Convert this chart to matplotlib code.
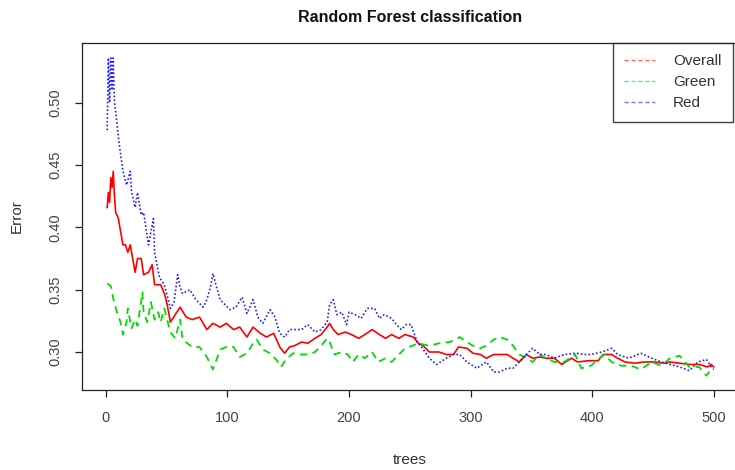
import matplotlib
matplotlib.use("Agg")
import matplotlib.pyplot as plt
from matplotlib.lines import Line2D

plt.rcParams['font.family'] = ['Liberation Sans', 'DejaVu Sans']

# OOB error rates (trees, error)
trees_overall = [1, 2, 3, 4, 5, 6, 7, 8, 10, 14,
                 16, 18, 20, 24, 26, 29, 31, 35, 38, 40,
                 45, 48, 50, 53, 57, 61, 66, 71, 77, 83,
                 88, 94, 99, 105, 110, 116, 121, 127, 132, 138,
                 143, 147, 151, 155, 161, 166, 172, 177, 182, 184,
                 187, 191, 197, 202, 208, 213, 219, 225, 230, 235,
                 241, 246, 253, 257, 261, 266, 274, 280, 286, 290,
                 297, 302, 308, 313, 319, 324, 330, 335, 340, 346,
                 351, 357, 362, 369, 375, 383, 388, 397, 405, 409,
                 416, 421, 427, 435, 443, 451, 460, 464, 472, 480,
                 488, 495, 498, 500]
err_overall = [0.416, 0.428, 0.420, 0.440, 0.432, 0.445, 0.425, 0.412, 0.408, 0.386,
               0.386, 0.380, 0.386, 0.364, 0.375, 0.375, 0.362, 0.364, 0.370, 0.354,
               0.354, 0.347, 0.340, 0.324, 0.330, 0.336, 0.328, 0.326, 0.328, 0.318,
               0.323, 0.320, 0.323, 0.318, 0.320, 0.312, 0.320, 0.315, 0.312, 0.315,
               0.304, 0.299, 0.304, 0.305, 0.308, 0.307, 0.311, 0.314, 0.320, 0.323,
               0.318, 0.314, 0.316, 0.314, 0.311, 0.314, 0.318, 0.314, 0.311, 0.314,
               0.311, 0.314, 0.312, 0.307, 0.305, 0.300, 0.300, 0.298, 0.298, 0.304,
               0.303, 0.299, 0.298, 0.295, 0.298, 0.298, 0.298, 0.295, 0.292, 0.298,
               0.295, 0.296, 0.295, 0.295, 0.290, 0.295, 0.292, 0.293, 0.293, 0.298,
               0.298, 0.295, 0.292, 0.291, 0.292, 0.292, 0.291, 0.292, 0.291, 0.290,
               0.290, 0.288, 0.290, 0.288]

trees_green = [1, 4, 6, 9, 12, 14, 17, 18, 21, 24,
               26, 30, 31, 34, 37, 40, 43, 45, 48, 53,
               57, 61, 63, 71, 77, 83, 88, 94, 99, 105,
               110, 116, 121, 124, 129, 135, 140, 144, 148, 154,
               161, 166, 172, 177, 182, 184, 188, 194, 199, 203,
               208, 213, 219, 224, 230, 235, 241, 246, 252, 257,
               266, 274, 283, 291, 297, 302, 308, 313, 319, 324,
               330, 335, 340, 346, 351, 357, 362, 369, 377, 386,
               391, 399, 406, 410, 416, 424, 432, 440, 449, 457,
               464, 472, 480, 488, 494, 497, 500]
err_green = [0.355, 0.353, 0.343, 0.332, 0.324, 0.314, 0.324, 0.335, 0.319, 0.326,
             0.321, 0.348, 0.332, 0.324, 0.340, 0.326, 0.332, 0.324, 0.335, 0.316,
             0.311, 0.326, 0.310, 0.304, 0.304, 0.296, 0.286, 0.302, 0.304, 0.304,
             0.296, 0.299, 0.307, 0.310, 0.302, 0.299, 0.294, 0.288, 0.294, 0.299,
             0.298, 0.298, 0.300, 0.305, 0.311, 0.308, 0.298, 0.300, 0.298, 0.292,
             0.298, 0.295, 0.300, 0.292, 0.295, 0.292, 0.298, 0.303, 0.305, 0.307,
             0.305, 0.307, 0.308, 0.312, 0.308, 0.305, 0.303, 0.305, 0.310, 0.312,
             0.310, 0.305, 0.298, 0.295, 0.292, 0.298, 0.295, 0.292, 0.292, 0.298,
             0.287, 0.289, 0.295, 0.298, 0.292, 0.289, 0.289, 0.286, 0.292, 0.289,
             0.295, 0.297, 0.288, 0.288, 0.281, 0.285, 0.284]

trees_red = [1, 2, 3, 4, 5, 6, 7, 8, 11, 14,
             17, 20, 21, 24, 26, 29, 31, 35, 39, 40,
             44, 48, 51, 53, 56, 59, 61, 63, 69, 74,
             80, 83, 86, 88, 91, 94, 97, 102, 107, 112,
             116, 121, 125, 129, 135, 139, 143, 147, 151, 157,
             161, 166, 172, 177, 182, 184, 187, 190, 194, 198,
             200, 205, 210, 215, 221, 225, 229, 235, 239, 243,
             247, 251, 256, 259, 266, 272, 280, 286, 291, 297,
             305, 313, 319, 324, 330, 335, 340, 346, 351, 357,
             362, 369, 377, 386, 394, 399, 408, 416, 421, 430,
             440, 449, 457, 464, 472, 480, 487, 494, 498, 500]
err_red = [0.478, 0.536, 0.500, 0.536, 0.510, 0.536, 0.500, 0.493, 0.466, 0.445,
           0.434, 0.445, 0.429, 0.416, 0.428, 0.410, 0.412, 0.386, 0.407, 0.380,
           0.360, 0.354, 0.343, 0.335, 0.340, 0.362, 0.352, 0.347, 0.350, 0.342,
           0.336, 0.342, 0.352, 0.363, 0.352, 0.342, 0.339, 0.334, 0.336, 0.344,
           0.331, 0.342, 0.328, 0.323, 0.334, 0.328, 0.315, 0.312, 0.318, 0.318,
           0.318, 0.322, 0.316, 0.318, 0.324, 0.338, 0.342, 0.330, 0.332, 0.322,
           0.332, 0.330, 0.327, 0.335, 0.335, 0.327, 0.330, 0.327, 0.322, 0.318,
           0.322, 0.322, 0.308, 0.305, 0.295, 0.290, 0.295, 0.298, 0.298, 0.292,
           0.287, 0.292, 0.284, 0.284, 0.287, 0.287, 0.292, 0.298, 0.303, 0.298,
           0.298, 0.295, 0.298, 0.299, 0.298, 0.298, 0.300, 0.303, 0.298, 0.295,
           0.299, 0.295, 0.292, 0.290, 0.288, 0.285, 0.292, 0.294, 0.288, 0.286]

x_ticks = [0, 100, 200, 300, 400, 500]
y_ticks = [0.30, 0.35, 0.40, 0.45, 0.50]
labels = ['Overall', 'Green', 'Red']
colors = ['#ff0000', '#00dd00', '#2020ff']

fig = plt.figure(figsize=(7.35, 4.70), dpi=100)
ax = fig.add_axes([82 / 735, 80 / 470, 656 / 735, 347 / 470])

ax.plot(trees_overall, err_overall, color=colors[0], lw=1.2, ls='-')
ax.plot(trees_green, err_green, color=colors[1], lw=1.3, ls=(0, (4, 3)))
ax.plot(trees_red, err_red, color=colors[2], lw=1.2, ls=(0, (1, 1.3)))

ax.set_xlim(-19.7, 520)
ax.set_ylim(0.2695, 0.548)
ax.set_xticks(x_ticks)
ax.set_xticklabels([str(v) for v in x_ticks])
ax.set_yticks(y_ticks)
ax.set_yticklabels(['%.2f' % v for v in y_ticks], rotation=90, va='center')
ax.tick_params(direction='out', length=5, width=0.9, colors='#222222',
               labelcolor='#444444', labelsize=10.5)
ax.tick_params(axis='x', pad=10)
ax.tick_params(axis='y', pad=9)
for sp in ax.spines.values():
    sp.set_linewidth(0.9)
    sp.set_color('#222222')

ax.set_xlabel('trees', fontsize=11, color='#333333', labelpad=20)
ax.set_ylabel('Error', fontsize=11, color='#333333', labelpad=18)
fig.text(410 / 735, 1 - 17 / 470, 'Random Forest classification',
         ha='center', va='center', fontsize=11.5, fontweight='bold', color='#111111')

handles = [Line2D([], [], color=c, lw=1.0, ls=(0, (3, 2)), alpha=0.6) for c in colors]
leg = ax.legend(handles, labels, loc='upper right', bbox_to_anchor=(733 / 735, 1 - 43 / 470),
                bbox_transform=fig.transFigure, fontsize=11, frameon=True, fancybox=False,
                borderpad=0.75, labelspacing=0.45, handlelength=2.0, handletextpad=1.2,
                borderaxespad=0)
leg.get_frame().set_edgecolor('#111111')
leg.get_frame().set_linewidth(1.0)
for t in leg.get_texts():
    t.set_color('#333333')

fig.savefig('out.png', dpi=100)
